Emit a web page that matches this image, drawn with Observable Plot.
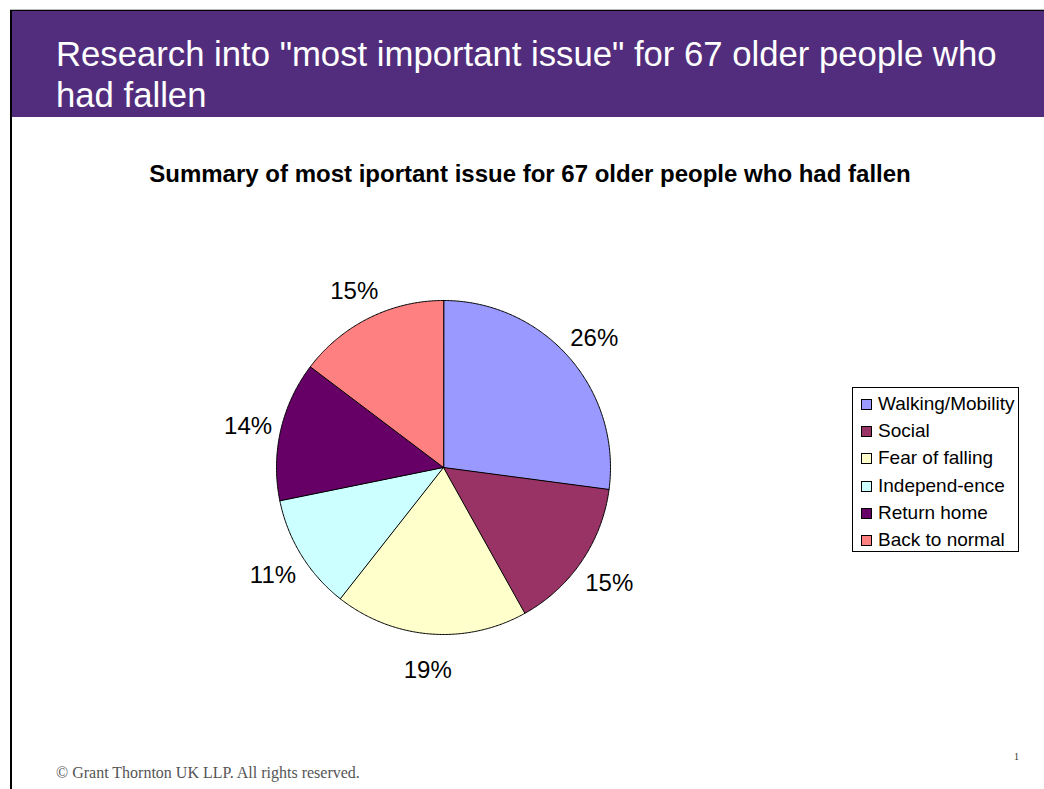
<!DOCTYPE html>
<html>
<head>
<meta charset="utf-8">
<script src="https://cdn.jsdelivr.net/npm/d3@7"></script>
<script src="https://cdn.jsdelivr.net/npm/@observablehq/plot@0.6"></script>
<style>
  html, body { margin: 0; padding: 0; background: #fff; }
  #page { position: relative; width: 1044px; height: 789px; overflow: hidden; font-family: "Liberation Sans", Arial, sans-serif; }
  #topline { position: absolute; left: 10px; top: 10px; width: 1034px; height: 1px; background: #000; }
  #topgray { position: absolute; left: 10px; top: 9px; width: 1034px; height: 1px; background: #bbb; }
  #leftline { position: absolute; left: 10px; top: 10px; width: 2px; height: 779px; background: #000; }
  #band { position: absolute; left: 12px; top: 11px; width: 1032px; height: 106px; background: #522D7D; }
  #title { position: absolute; left: 56px; top: 34px; color: #fff; font-size: 34.7px; line-height: 41px; width: 975px; }
  #subtitle { position: absolute; left: 0; width: 1060px; top: 160px; text-align: center; font-weight: bold; font-size: 24px; line-height: 28px; color: #000; }
  #chart { position: absolute; left: 193px; top: 217px; }
  #legend { position: absolute; left: 852px; top: 387px; width: 165px; height: 163px; border: 1px solid #000; box-sizing: content-box; background: #fff; }
  .item { position: absolute; left: 8px; height: 22px; font-size: 19px; line-height: 22px; white-space: nowrap; }
  .sw { position: absolute; left: 0; top: 6px; width: 9px; height: 9px; border: 1px solid #000; }
  .lab { position: absolute; left: 17px; top: 0; }
  #footer { position: absolute; left: 56px; top: 764px; font-family: "Liberation Serif", "Times New Roman", serif; font-size: 16px; color: #555; }
  #pagenum { position: absolute; left: 1014px; top: 751px; font-family: "Liberation Serif", "Times New Roman", serif; font-size: 10px; color: #333; }
</style>
</head>
<body>
<div id="page">
  <div id="topgray"></div>
  <div id="topline"></div>
  <div id="band"></div>
  <div id="leftline"></div>
  <div id="title">Research into "most important issue" for 67 older people who had fallen</div>
  <div id="subtitle">Summary of most iportant issue for 67 older people who had fallen</div>
  <div id="chart"></div>
  <div id="legend"></div>
  <div id="footer">© Grant Thornton UK LLP. All rights reserved.</div>
  <div id="pagenum">1</div>
</div>
<script>
const categories = ["Walking/Mobility", "Social", "Fear of falling", "Independ-ence", "Return home", "Back to normal"];
// slice sizes (the printed labels are kept as text below)
const shares = [27.1, 14.8, 18.7, 11.2, 13.5, 14.7];
const colors = ["#9999FF", "#993366", "#FFFFCC", "#CCFFFF", "#660066", "#FF8080"];
const labels = ["26%", "15%", "19%", "11%", "14%", "15%"];

const arcs = d3.pie().sort(null).value(d => d)(shares);

// polygon points for each slice (unit circle, angles clockwise from north)
const pts = [];
arcs.forEach((a, i) => {
  pts.push({x: 0, y: 0, cat: categories[i]});
  const n = Math.max(2, Math.ceil((a.endAngle - a.startAngle) / (Math.PI / 360)));
  for (let j = 0; j <= n; j++) {
    const t = a.startAngle + (a.endAngle - a.startAngle) * j / n;
    pts.push({x: Math.sin(t), y: Math.cos(t), cat: categories[i]});
  }
});

const labelData = arcs.map((a, i) => {
  const m = (a.startAngle + a.endAngle) / 2;
  return {x: 1.2 * Math.sin(m), y: 1.2 * Math.cos(m), text: labels[i]};
});

const size = 500, k = (size / 2) / 167;
const chart = Plot.plot({
  width: size,
  height: size,
  margin: 0,
  x: {domain: [-k, k], axis: null},
  y: {domain: [-k, k], axis: null},
  color: {domain: categories, range: colors},
  style: {background: "transparent", overflow: "visible"},
  marks: [
    Plot.line(pts, {x: "x", y: "y", z: "cat", fill: "cat", stroke: "#000", strokeWidth: 1, curve: "linear-closed"}),
    Plot.text(labelData, {x: "x", y: "y", text: "text", dy: 3, fontSize: 24, fill: "#000", fontFamily: "Liberation Sans, Arial, sans-serif"})
  ]
});
document.getElementById("chart").appendChild(chart);

const legend = document.getElementById("legend");
categories.forEach((c, i) => {
  const item = document.createElement("div");
  item.className = "item";
  item.style.top = (5 + i * 27.2) + "px";
  const sw = document.createElement("div");
  sw.className = "sw";
  sw.style.background = colors[i];
  const lab = document.createElement("div");
  lab.className = "lab";
  lab.textContent = c;
  item.appendChild(sw);
  item.appendChild(lab);
  legend.appendChild(item);
});
</script>
</body>
</html>
